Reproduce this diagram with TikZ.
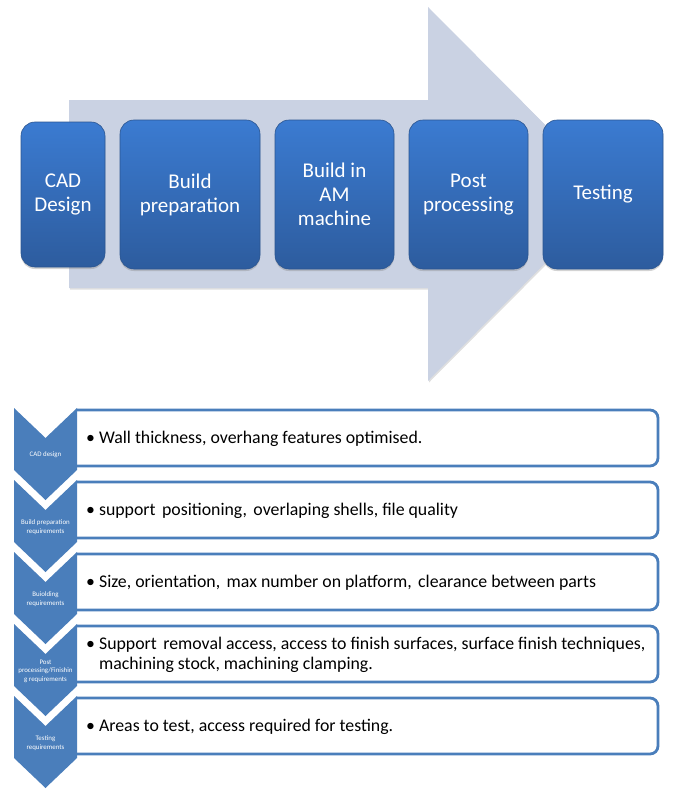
\documentclass[tikz,border=0pt]{standalone}
\usepackage{fontspec}
\setmainfont{Carlito}
\usetikzlibrary{shadows}
\definecolor{arrowfill}{HTML}{CAD2E3}
\definecolor{boxtop}{HTML}{3B7BD1}
\definecolor{boxbot}{HTML}{2D5C9E}
\definecolor{boxedge}{HTML}{2B5590}
\definecolor{accent}{HTML}{4A7EBB}
\newcommand{\wsp}{\hskip 6.5pt\relax}
\tikzset{
  stagebox/.style={rounded corners=14pt, top color=boxtop, bottom color=boxbot,
    draw=boxedge, line width=0.6pt, text=white, align=center,
    font=\fontsize{21}{24}\selectfont, inner sep=0pt,
    drop shadow={opacity=0.35, shadow xshift=0pt, shadow yshift=-2pt}},
  chevshape/.style={fill=accent, draw=none},
  chevlabel/.style={text=white, align=center, font=\fontsize{6.9}{8.4}\selectfont, inner sep=0pt},
  rowbox/.style={draw=accent, fill=white, line width=2.8pt, rounded corners=8pt},
  rowtext/.style={anchor=west, align=left, font=\fontsize{17.8}{20}\selectfont, inner sep=0pt, text=black},
}
\begin{document}
\begin{tikzpicture}[x=1pt, y=-1pt]
\useasboundingbox (0,0) rectangle (676,792);
% big background arrow
\fill[arrowfill, drop shadow={opacity=0.25, shadow xshift=1pt, shadow yshift=-1.5pt}]
  (69,100) -- (428,100) -- (428,7) -- (614,194) -- (428,381) -- (428,288) -- (69,288) -- cycle;
% stage boxes
\node[stagebox, minimum width=84pt, minimum height=145pt] (cad) at (63,194.5) {CAD\\Design};
\node[stagebox, minimum width=140pt, minimum height=149pt] (prep) at (190,194.5) {Build\\preparation};
\node[stagebox, minimum width=119pt, minimum height=149pt] (am) at (334.5,194.5) {Build in\\AM\\machine};
\node[stagebox, minimum width=119pt, minimum height=149pt] (post) at (468.5,194.5) {Post\\processing};
\node[stagebox, minimum width=120pt, minimum height=149pt] (test) at (603,194.5) {Testing};
% requirement rows
\foreach \T/\name/\lab/\txt in {
  408/r1/{CAD design}/{\textbullet\ Wall thickness, overhang features optimised.},
  480/r2/{Build preparation\\requirements}/{\textbullet\ support\wsp positioning,\wsp overlaping shells, file quality},
  552/r3/{Buiolding\\requirements}/{\textbullet\ Size, orientation,\wsp max number on platform,\wsp clearance between parts},
  624/r4/{Post\\processing/Finishin\\g requirements}/{\textbullet\ Support\wsp removal access, access to finish surfaces, surface finish techniques,\\\hphantom{\textbullet\ }machining stock, machining clamping.},
  696/r5/{Testing\\requirements}/{\textbullet\ Areas to test, access required for testing.}}
{
  \filldraw[rowbox] (77,\T+2) -- (658,\T+2) -- (658,\T+58) -- (77,\T+58);
  \node[rowtext] (\name text) at (86,\T+31) {\txt};
  \fill[chevshape] (14,\T) -- (45.5,\T+30) -- (77,\T) -- (77,\T+62) -- (45.5,\T+92) -- (14,\T+62) -- cycle;
  \node[chevlabel] (\name chev) at (45.5,\T+47) {\lab};
}
\end{tikzpicture}
\end{document}
